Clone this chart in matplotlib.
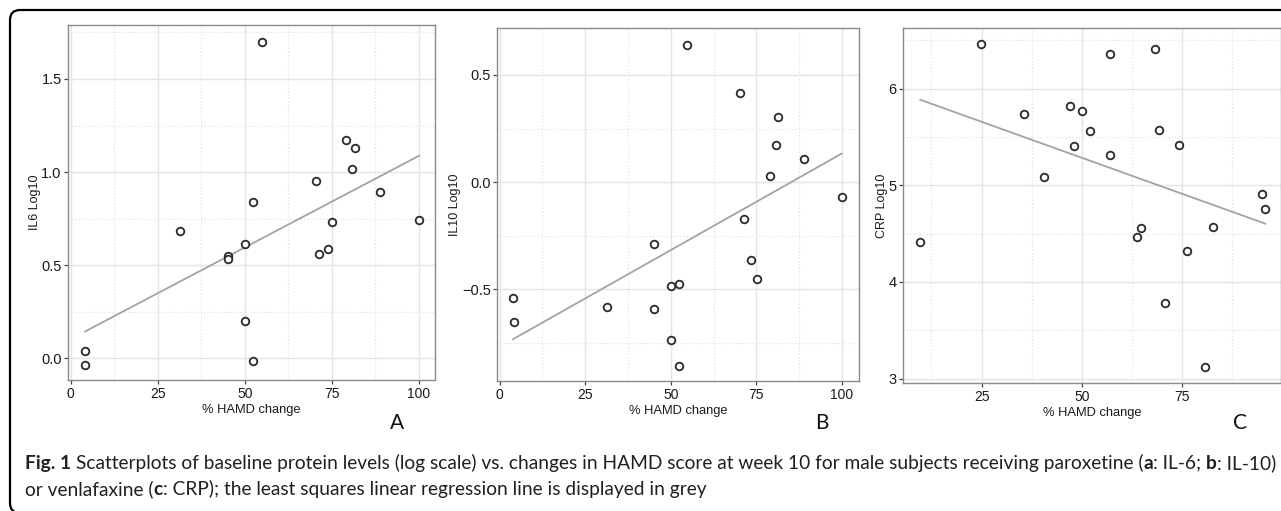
import numpy as np
import matplotlib
matplotlib.use("Agg")
import matplotlib.pyplot as plt
from matplotlib.patches import FancyBboxPatch
from matplotlib.transforms import IdentityTransform

# % HAMD change vs baseline protein level (log10), male subjects
# A: IL-6, paroxetine
hamd_a = [4.1, 4.1, 31.4, 45.1, 45.1, 50.1, 50.1, 52.2, 52.4, 54.8,
          70.4, 71.4, 73.8, 75.0, 78.9, 80.9, 81.5, 88.9, 100.0]
il6 = [0.041, -0.038, 0.684, 0.549, 0.535, 0.612, 0.199, 0.838, -0.013, 1.699,
       0.954, 0.558, 0.587, 0.732, 1.171, 1.015, 1.128, 0.895, 0.743]

# B: IL-10, paroxetine
hamd_b = [3.9, 4.2, 31.3, 45.1, 45.1, 49.9, 49.9, 52.4, 52.4, 54.6,
          70.3, 71.4, 73.4, 75.1, 78.9, 80.7, 81.2, 88.8, 99.9]
il10 = [-0.539, -0.651, -0.581, -0.287, -0.593, -0.486, -0.734, -0.474, -0.856, 0.641,
        0.416, -0.171, -0.362, -0.453, 0.028, 0.175, 0.304, 0.106, -0.068]

# C: CRP, venlafaxine
hamd_c = [9.7, 24.9, 35.6, 40.6, 46.9, 47.9, 49.9, 52.0, 56.9, 56.9, 63.8,
          64.8, 68.2, 69.2, 70.7, 74.1, 76.1, 80.6, 82.6, 94.8, 95.7]
crp = [4.410, 6.466, 5.741, 5.086, 5.824, 5.407, 5.769, 5.559, 6.355, 5.317, 4.462,
       4.555, 6.410, 5.576, 3.783, 5.421, 4.317, 3.124, 4.569, 4.910, 4.759]

W, H = 1281, 511
fig = plt.figure(figsize=(W / 100, H / 100), dpi=100)
plt.rcParams['font.family'] = ['Liberation Sans', 'DejaVu Sans']


def px_axes(x0, y0, x1, y1):
    # pixel box (top-left origin) -> figure fraction
    return fig.add_axes([x0 / W, 1 - y1 / H, (x1 - x0) / W, (y1 - y0) / H])


def panel(ax, x, y, xlim, ylim, xticks, xminor, yticks, yminor, ylabel):
    ax.set_xlim(xlim)
    ax.set_ylim(ylim)
    ax.set_xticks(xticks)
    ax.set_xticks(xminor, minor=True)
    ax.set_yticks(yticks)
    ax.set_yticks(yminor, minor=True)
    ax.grid(which='major', color='#e4e4e4', lw=1.0)
    ax.grid(which='minor', color='#e2e2e2', lw=0.9, ls=':')
    ax.set_axisbelow(True)
    ax.tick_params(which='minor', length=0)
    ax.tick_params(which='major', length=3, width=0.9, color='#444444',
                   labelcolor='#1a1a1a', pad=2)
    ax.tick_params(axis='x', labelsize=10)
    ax.tick_params(axis='y', labelsize=10.5, pad=1.5)
    for s in ax.spines.values():
        s.set_color('#8a8a8a')
        s.set_linewidth(1.0)

    # least squares line
    k, b = np.polyfit(x, y, 1)
    xs = np.array([min(x), max(x)])
    ax.plot(xs, k * xs + b, color='#a3a3a3', lw=1.3, zorder=2)

    ax.scatter(x, y, s=30, facecolor='white', edgecolor='#2a2a2a', lw=1.3, zorder=3)
    ax.set_xlabel('% HAMD change', fontsize=9.3, labelpad=2, color='#1a1a1a')
    ax.set_ylabel(ylabel, fontsize=9, labelpad=0.5, color='#1a1a1a')


ax1 = px_axes(68, 25, 435, 380)
panel(ax1, hamd_a, il6, (-0.8, 104.6), (-0.117, 1.79),
      [0, 25, 50, 75, 100], [12.5, 37.5, 62.5, 87.5],
      [0.0, 0.5, 1.0, 1.5], [0.25, 0.75, 1.25, 1.75], 'IL6 Log10')

ax2 = px_axes(497, 28, 859, 381)
panel(ax2, hamd_b, il10, (-0.78, 104.96), (-0.927, 0.719),
      [0, 25, 50, 75, 100], [12.5, 37.5, 62.5, 87.5],
      [-0.5, 0.0, 0.5], [-0.75, -0.25, 0.25], 'IL10 Log10')

ax3 = px_axes(903, 28, 1281, 383)
panel(ax3, hamd_c, crp, (5.4, 99.6), (2.955, 6.628),
      [25, 50, 75], [12.5, 37.5, 62.5, 87.5],
      [3, 4, 5, 6], [3.5, 4.5, 5.5, 6.5], 'CRP Log10')

# panel letters
for lab, xp in [('A', 397), ('B', 822), ('C', 1240)]:
    fig.text(xp / W, 1 - 423 / H, lab, fontsize=15, family=['Lato', 'DejaVu Sans'],
             ha='center', va='center', color='#111111')

# outer rounded frame
frame = FancyBboxPatch((10, -2), 1320, 503, boxstyle='round,pad=0,rounding_size=10',
                       transform=IdentityTransform(), fill=False, ec='black', lw=1.6,
                       clip_on=False)
fig.patches.append(frame)

cap_kw = {'family': ['Lato', 'DejaVu Sans']}

line1 = [('Fig. 1', 'bold'), (' ', None),
         ('Scatterplots of baseline protein levels (log scale) vs. changes in HAMD score at week 10 '
          'for male subjects receiving paroxetine (', 'normal'),
         ('a', 'bold'), (': IL-6;', 'normal'), (' ', None), ('b', 'bold'), (': IL-10)', 'normal')]
line2 = [('or venlafaxine (', 'normal'), ('c', 'bold'),
         (': CRP); the least squares linear regression line is displayed in grey', 'normal')]

renderer = fig.canvas.get_renderer()


def text_w(s, weight, size):
    t = fig.text(0, 0, s, fontsize=size, weight=weight, **cap_kw)
    w = t.get_window_extent(renderer).width
    t.remove()
    return w


def space_w(size):
    return text_w('x x', 'normal', size) - text_w('xx', 'normal', size)


def line_w(runs, size):
    return sum(space_w(size) if wt is None else text_w(s, wt, size) for s, wt in runs)


size = 10 * 1251 / line_w(line1, 10)


def put_line(runs, x, y):
    for s, wt in runs:
        if wt is None:
            x += space_w(size)
            continue
        t = fig.text(x, H - y, s, fontsize=size, weight=wt, color='#231f20',
                     va='center', ha='left', transform=IdentityTransform(), **cap_kw)
        x += t.get_window_extent(renderer).width


put_line(line1, 25, 463)
put_line(line2, 25, 489)

fig.savefig('out.png', dpi=100)
